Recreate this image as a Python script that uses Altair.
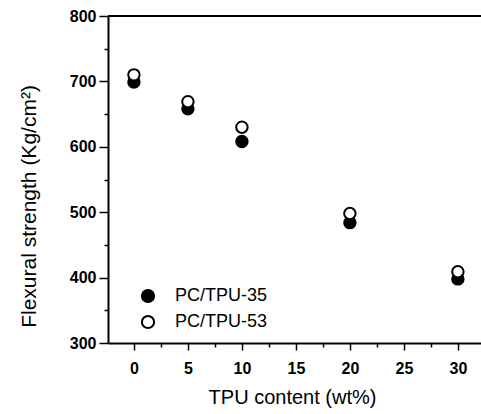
import altair as alt
import pandas as pd

tpu_content = [0, 5, 10, 20, 30]
pc_tpu_35 = [699, 658, 608, 484, 398]
pc_tpu_53 = [710, 669, 630, 498, 409]
series_names = ["PC/TPU-35", "PC/TPU-53"]

x_major = [0, 5, 10, 15, 20, 25, 30]
x_minor = [2.5, 7.5, 12.5, 17.5, 22.5, 27.5]
y_major = [300, 400, 500, 600, 700, 800]
y_minor = [350, 450, 550, 650, 750]

rows = []
for name, vals in zip(series_names, [pc_tpu_35, pc_tpu_53]):
    for x, y in zip(tpu_content, vals):
        rows.append({"x": x, "y": y, "series": name})
df = pd.DataFrame(rows)

FONT = "Liberation Sans"
xscale = alt.Scale(domain=[-2.4, 32.14], nice=False, zero=False)
yscale = alt.Scale(domain=[300, 800], nice=False, zero=False)

points = alt.Chart(df).mark_point(
    shape="circle", filled=True, size=130, stroke="black", strokeWidth=2, opacity=1
).encode(
    x=alt.X("x:Q", scale=xscale, axis=alt.Axis(
        orient="bottom",
        values=x_major, title="TPU content (wt%)", grid=False,
        domainColor="black", domainWidth=2, tickColor="black", tickWidth=1.5, tickSize=7,
        labelFont=FONT, labelFontSize=16, labelFontWeight="bold", labelColor="black",
        labelPadding=10, labelFlush=False,
        titleFont=FONT, titleFontSize=20, titleFontWeight="normal", titleColor="black",
        titleX=184, titleY=60, titleBaseline="alphabetic", titleAnchor="middle")),
    y=alt.Y("y:Q", scale=yscale, axis=alt.Axis(
        orient="left",
        values=y_major, title="Flexural strength (Kg/cm²)", grid=False,
        domainColor="black", domainWidth=2, tickColor="black", tickWidth=1.5, tickSize=9,
        labelFont=FONT, labelFontSize=16, labelFontWeight="bold", labelColor="black",
        labelPadding=3, labelFlush=False,
        titleFont=FONT, titleFontSize=21, titleFontWeight="normal", titleColor="black",
        titleX=-73, titleY=190, titleBaseline="alphabetic", titleAngle=270)),
    fill=alt.Fill("series:N", scale=alt.Scale(domain=series_names, range=["black", "white"]),
                  legend=alt.Legend(
                      title=None, orient="none", legendX=31, legendY=271, padding=0,
                      symbolType="circle", symbolSize=150, symbolStrokeColor="black",
                      symbolStrokeWidth=2, labelFont=FONT, labelFontSize=18,
                      labelColor="black", labelOffset=18, rowPadding=4)),
    order=alt.Order("series:N"),
)

minor = alt.Chart(df).mark_point(opacity=0).encode(
    x=alt.X("x:Q", scale=xscale, axis=alt.Axis(
        orient="bottom", values=x_minor, labels=False, domain=False, title=None, grid=False,
        tickColor="black", tickWidth=1.5, tickSize=4)),
    y=alt.Y("y:Q", scale=yscale, axis=alt.Axis(
        orient="left", values=y_minor, labels=False, domain=False, title=None, grid=False,
        tickColor="black", tickWidth=1.5, tickSize=4)),
)

top = alt.Chart(df).mark_rule(color="black", strokeWidth=2).encode(
    y=alt.datum(800, scale=yscale, axis=None)
)

chart = alt.layer(points, minor, top).resolve_axis(x="independent", y="independent").properties(
    width=373, height=327,
    autosize=alt.AutoSizeParams(type="none"),
    padding={"left": 108, "top": 16, "right": 0, "bottom": 71},
).configure_view(stroke=None)

chart.save("out.html", embed_options={"renderer": "svg", "actions": False})
